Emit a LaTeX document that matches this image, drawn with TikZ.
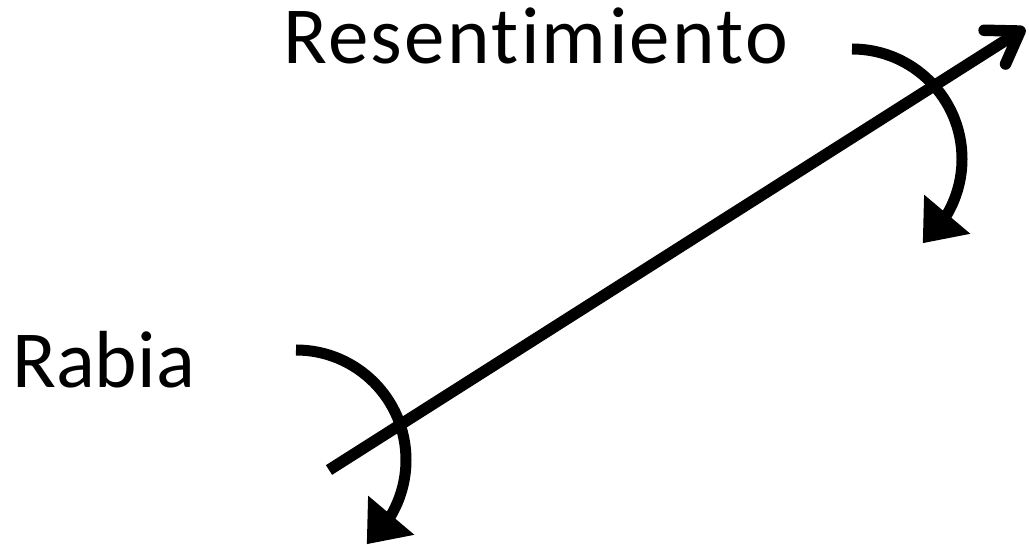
\documentclass[tikz,border=0pt]{standalone}
\usepackage{fontspec}
\setmainfont{Carlito}[Ligatures={NoCommon,NoRare,NoDiscretionary}]
\newfontfamily\spacedfont{Carlito}[Ligatures={NoCommon,NoRare,NoDiscretionary},LetterSpace=2.9]
\usetikzlibrary{arrows.meta,bending}
\tikzset{
  lbl/.style={inner sep=0pt, anchor=base west, font=\fontsize{81}{97}\selectfont},
  mainline/.style={line width=11.5pt, line cap=butt,
    -{Straight Barb[length=30pt, width=40pt, round]}},
  turn/.style={line width=11pt, line cap=butt,
    -{Triangle[length=38pt, width=58pt, flex]}}
}
\begin{document}
\begin{tikzpicture}[x=1pt,y=1pt]
\useasboundingbox (0,0) rectangle (1029,545);
\node[lbl] (resent) at (283,481) {\spacedfont Resentimiento};
\node[lbl] (rabia) at (12,157) {Rabia};
\coordinate (a) at (329,75);
\coordinate (b) at (1025,517);
\draw[mainline] (a) -- (b);
\coordinate (t0) at (852,496);
\draw[turn] (t0) arc[start angle=90, end angle=-50, radius=110];
\coordinate (r0) at (296,195);
\draw[turn] (r0) arc[start angle=90, end angle=-50, radius=110];
\end{tikzpicture}
\end{document}
